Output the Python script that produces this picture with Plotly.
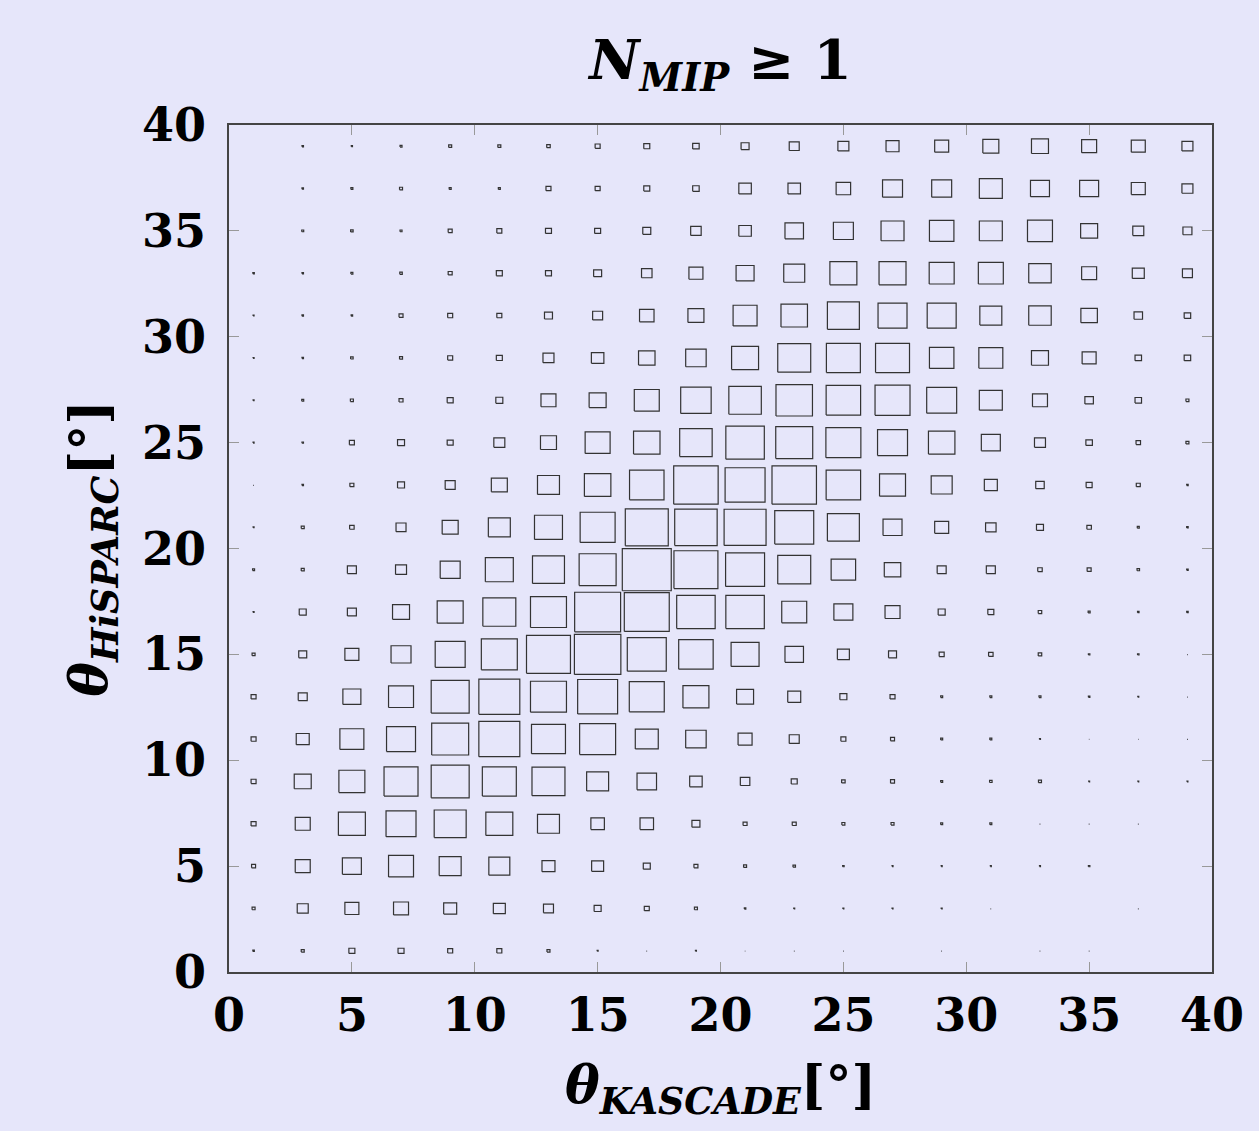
import plotly.graph_objects as go

# bin centres (degrees)
theta_kascade = [1, 3, 5, 7, 9, 11, 13, 15, 17, 19, 21, 23, 25, 27, 29, 31, 33, 35, 37, 39]
theta_hisparc = [1, 3, 5, 7, 9, 11, 13, 15, 17, 19, 21, 23, 25, 27, 29, 31, 33, 35, 37, 39]

# relative box size per bin (rows: theta_hisparc from 1 to 39, cols: theta_kascade 1..39)
row_01 = [1.5, 3, 6, 6, 5, 5, 3, 1, 0.7, 1, 0.5, 0.7, 0.7, 0, 0.7, 0, 0.7, 0.7, 0, 0]
row_03 = [3, 11, 14, 15, 13, 12, 10, 7, 5, 3, 1.5, 1, 1, 1, 1, 0.7, 0, 0, 0.8, 0]
row_05 = [4, 15, 19, 25, 22, 21, 13, 12, 7, 4, 3, 2.5, 1.5, 1, 1, 1, 1, 1.5, 0, 0]
row_07 = [5, 15, 27, 30, 32, 27, 22, 13.5, 13.5, 8, 4, 4, 3, 3, 2, 2, 0.8, 0.8, 0.8, 0]
row_09 = [5, 17, 26, 34, 38, 34, 33, 22, 19.5, 12.5, 9.5, 6, 3.5, 4, 2, 2.5, 3, 1, 1, 1]
row_11 = [5, 13, 24, 29, 37, 41, 34, 36, 23, 20.5, 14, 10, 5, 4, 2, 2, 1, 0.5, 0.5, 0.8]
row_13 = [5, 9, 18, 25, 38, 41, 36, 40, 35, 26, 17, 13, 7, 5, 2, 2, 2, 1.5, 1, 0.7]
row_15 = [3, 8, 14, 20, 30, 36, 44, 46.5, 39, 34.5, 28, 18.5, 12, 8, 5, 4.5, 3.5, 1.5, 1.5, 0.7]
row_17 = [1, 7, 9, 17, 26, 33, 36, 46, 45, 38.5, 38.5, 25, 19, 15, 7, 6, 3.5, 2, 1.5, 1.5]
row_19 = [2, 3, 9, 11, 20, 28, 32, 37, 49, 44, 39, 33, 24.5, 16.5, 9, 9, 4.5, 4, 2.5, 1.5]
row_21 = [1, 3, 4.5, 10, 16, 22, 28, 35, 43, 42.5, 42, 39, 32, 19, 14, 10.5, 7, 4.5, 2, 1.5]
row_23 = [0.7, 1.5, 4, 7, 10, 16, 22, 26.5, 34.5, 44.5, 40, 44.5, 34.5, 26, 21, 13, 8.5, 6, 4, 1.5]
row_25 = [1, 1.5, 5, 7, 6, 11, 16, 25, 26.5, 32.5, 38.5, 37, 35, 30, 26.5, 19, 11, 6.5, 4.5, 3]
row_27 = [1, 2, 3, 4, 6, 7, 15, 17, 25, 30.5, 32.5, 36.5, 34.5, 35, 30, 23, 15, 8.5, 6.5, 3]
row_29 = [1, 1.5, 2.5, 3, 5, 6, 11, 12.5, 16.5, 20.5, 27, 33, 34, 34, 24.5, 24, 17, 14, 6.5, 6.5]
row_31 = [1, 1.5, 1.5, 4, 5, 5, 8, 10, 14.5, 16, 24, 26.5, 32, 29, 29, 22, 22.5, 16.5, 8.5, 6.5]
row_33 = [1.5, 1.5, 2, 2.5, 4, 6, 6, 8, 10.5, 14, 18, 21, 27, 27, 25, 25, 22.5, 15, 12, 10]
row_35 = [0, 2, 2.5, 2, 4, 5, 6, 6, 8, 10.5, 12.5, 18.5, 20, 23, 24.5, 23, 25, 17, 11, 9]
row_37 = [0, 1.5, 2, 3, 2, 2, 5, 5, 6, 6.5, 12.5, 12.5, 14.5, 20, 20, 23, 19, 19, 14, 11]
row_39 = [0, 1.5, 1.2, 2, 3, 3, 3.5, 5, 6, 6.5, 8, 10, 11, 13, 14, 16, 17, 15, 14, 11]

rows = [row_01, row_03, row_05, row_07, row_09, row_11, row_13, row_15, row_17, row_19,
        row_21, row_23, row_25, row_27, row_29, row_31, row_33, row_35, row_37, row_39]

tick_vals = [0, 5, 10, 15, 20, 25, 30, 35, 40]
tick_text = ["0", "5", "10", "15", "20", "25", "30", "35", "40"]

FULL = 49.2  # size value that fills a whole 2-degree bin
BIN = 2.0

xs, ys = [], []
for yc, row in zip(theta_hisparc, rows):
    for xc, v in zip(theta_kascade, row):
        if v <= 0:
            continue
        h = BIN * v / FULL / 2.0
        xs += [xc - h, xc + h, xc + h, xc - h, xc - h, None]
        ys += [yc - h, yc - h, yc + h, yc + h, yc - h, None]

fig = go.Figure()
fig.add_trace(go.Scatter(x=xs, y=ys, mode="lines",
                         line=dict(color="#333333", width=1.2),
                         hoverinfo="skip", showlegend=False))

bg = "#E6E6FA"
font_family = "DejaVu Serif, Liberation Serif, serif"
axis_common = dict(
    range=[0, 40], tickvals=tick_vals, ticktext=tick_text,
    ticks="inside", ticklen=10, tickwidth=1.2, tickcolor="#999999",
    showline=True, linecolor="#444444", linewidth=1.5, mirror="ticks",
    showgrid=False, zeroline=False,
    tickfont=dict(family=font_family, size=46, color="black", weight="bold"),
)

fig.update_layout(
    width=1259, height=1131, autosize=False,
    paper_bgcolor=bg, plot_bgcolor=bg,
    margin=dict(l=229, r=47, t=125, b=159),
    title=dict(text="<b><i>N</i><sub><i>MIP</i></sub> ≥ 1</b>",
               x=0.5, xref="paper", xanchor="center",
               y=1 - 60 / 1131, yanchor="middle",
               font=dict(family=font_family, size=55, color="black")),
    xaxis=dict(**axis_common,
               title=dict(text="<b><i>θ</i><sub><i>KASCADE</i></sub>[°]</b>",
                          font=dict(family=font_family, size=52, color="black"),
                          standoff=26)),
    yaxis=dict(**axis_common,
               title=dict(text="<b><i>θ</i><sub><i>HiSPARC</i></sub>[°]</b>",
                          font=dict(family=font_family, size=52, color="black"),
                          standoff=18)),
)
fig.update_xaxes(ticklabelstandoff=2)
fig.update_yaxes(ticklabelstandoff=12)

fig.write_html("out.html",
               config={"displayModeBar": False},
               post_script="document.body.style.margin='0';"
                           "document.body.style.background='#E6E6FA';")
